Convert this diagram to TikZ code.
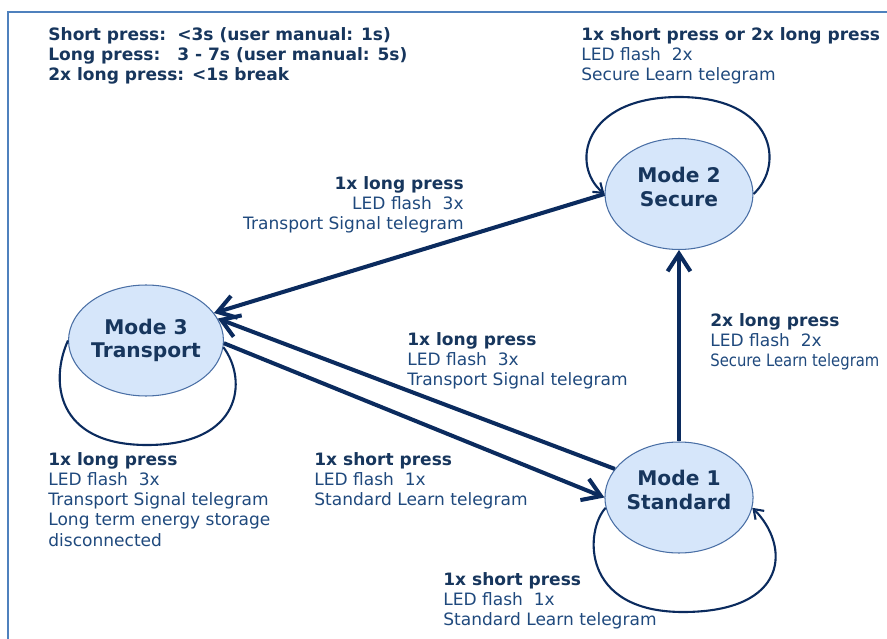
\documentclass[tikz,border=0pt]{standalone}
\usepackage{fontspec}
\setmainfont{DejaVu Sans}
\usepackage{xcolor}
\usepackage{graphicx}
\usetikzlibrary{arrows.meta, shapes.geometric}

\definecolor{navy}{HTML}{0B2B5E}
\definecolor{boldtext}{HTML}{17365D}
\definecolor{plaintext}{HTML}{1F497D}
\definecolor{modefill}{HTML}{D6E6FA}
\definecolor{modeline}{HTML}{4A6FA5}
\definecolor{framecol}{HTML}{4F81BD}

\newcommand{\presstext}[1]{\textcolor{boldtext}{\bfseries #1}}

\begin{document}
\begin{tikzpicture}[x=0.02cm, y=-0.02cm,
  modestate/.style={ellipse, draw=modeline, line width=0.6pt, fill=modefill,
    minimum width=2.96cm, minimum height=2.22cm, inner sep=0pt, align=center,
    text=boldtext, font=\fontsize{11.5}{13.5}\selectfont\bfseries},
  note/.style={inner sep=0pt, anchor=north west, align=left, text=plaintext,
    font=\fontsize{9.7}{11.5}\selectfont},
  trans/.style={draw=navy, line width=2.3pt, -{Straight Barb[length=10pt,width=13pt]}},
  loopline/.style={draw=navy, line width=1.2pt}]
\useasboundingbox (0,0) rectangle (887,639);
%\draw[step=50,gray,very thin] (0,0) grid (887,639);
\draw[framecol, line width=1.2pt] (8,660) -- (8,12) -- (900,12);

\node[modestate, text depth=8.5pt] (secure) at (679,194) {Mode 2\\Secure};
\node[modestate] (transport) at (146,340.5) {Mode 3\\Transport};
\node[modestate, text depth=8.5pt] (standard) at (679,497.5) {Mode 1\\Standard};

% self loops
\draw[loopline, -{Straight Barb[length=5pt,width=7pt]}] (secure.east) .. controls (785,165) and (775,97) .. (679,97)
  .. controls (583,97) and (570,165) .. (secure.west);
\draw[loopline] (transport.west) .. controls (50,380) and (55,445) .. (147,445)
  .. controls (242,445) and (248,380) .. (transport.-5);
\draw[loopline, -{Straight Barb[length=5pt,width=7pt]}] (standard.188) .. controls (585,530) and (580,612) .. (683,612)
  .. controls (790,612) and (790,545) .. (standard.-8);

% transitions
\draw[trans] (secure.west) -- (transport.22);
\draw[trans] (standard.156) -- (transport.17);
\draw[trans] (transport.-2) -- (standard.west);
\draw[trans] (standard.north) -- (secure.south);

\node[note, text=boldtext, font=\fontsize{9.7}{11.5}\selectfont\bfseries] (legend) at (48,27)
  {\makebox[2.58cm][l]{Short press:}<3s (user manual: 1s)\\
   \makebox[2.58cm][l]{Long press:}3 - 7s (user manual: 5s)\\
   2x long press: <1s break};
\node[note] (securenote) at (581,27) {\presstext{1x short press or 2x long press}\\LED flash~ 2x\\Secure Learn telegram};
\node[note, anchor=north east, align=right] (tonote) at (464,176) {\presstext{1x long press}\\LED flash~ 3x\\Transport Signal telegram};
\node[note] (backnote) at (407,332) {\presstext{1x long press}\\LED flash~ 3x\\Transport Signal telegram};
\node[note] (upnote) at (710,313) {\presstext{2x long press}\\LED flash~ 2x\\\scalebox{0.87}[1]{Secure Learn telegram}};
\node[note] (transportnote) at (48,452) {\presstext{1x long press}\\LED flash~ 3x\\Transport Signal telegram\\Long term energy storage\\disconnected};
\node[note] (standardnote) at (314,452) {\presstext{1x short press}\\LED flash~ 1x\\Standard Learn telegram};
\node[note] (loopnote) at (443,572) {\presstext{1x short press}\\LED flash~ 1x\\Standard Learn telegram};
\end{tikzpicture}
\end{document}
